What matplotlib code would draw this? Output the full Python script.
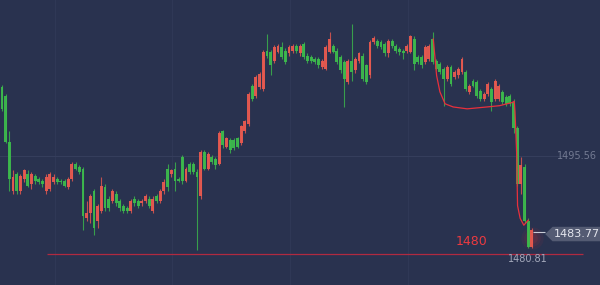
import matplotlib
matplotlib.use("Agg")
import matplotlib.pyplot as plt
from matplotlib.patches import Polygon

# ---- data (price units) ----
opens = [1506.4, 1505.1, 1497.8, 1489.9, 1492.7, 1489.9, 1491.9, 1492.7, 1491.1, 1492.4,
         1491.9, 1491.6, 1489.9, 1490.3, 1491.4, 1491.9, 1491.6, 1491.6, 1490.6, 1491.9,
         1494.3, 1493.8, 1493.5, 1485.6, 1486.4, 1490.0, 1485.2, 1486.7, 1490.6, 1488.7,
         1488.4, 1489.5, 1488.4, 1487.5, 1487.2, 1486.8, 1488.7, 1488.4, 1488.0, 1488.3,
         1488.7, 1486.8, 1489.2, 1488.3, 1489.9, 1493.5, 1492.7, 1493.5, 1491.9, 1495.4,
         1491.6, 1494.3, 1494.3, 1493.0, 1489.2, 1496.2, 1493.5, 1495.4, 1495.1, 1494.3,
         1499.4, 1497.0, 1498.0, 1498.0, 1498.3, 1497.5, 1499.4, 1500.6, 1506.7, 1505.1,
         1506.5, 1506.2, 1512.2, 1512.1, 1510.6, 1512.1, 1512.9, 1512.2, 1511.8, 1512.2,
         1513.0, 1511.8, 1513.3, 1511.4, 1511.3, 1511.0, 1511.0, 1509.7, 1509.4, 1512.1,
         1513.0, 1512.2, 1511.3, 1510.5, 1507.3, 1510.6, 1509.1, 1510.6, 1511.4, 1509.9,
         1508.3, 1513.7, 1513.8, 1513.7, 1513.3, 1511.8, 1513.8, 1513.0, 1512.5, 1512.2,
         1512.2, 1512.1, 1514.1, 1511.3, 1511.3, 1510.5, 1511.0, 1514.1, 1510.6, 1510.2,
         1509.4, 1507.8, 1509.7, 1508.1, 1508.3, 1508.9, 1508.9, 1505.7, 1507.5, 1507.3,
         1505.9, 1504.6, 1505.4, 1506.2, 1504.6, 1504.6, 1505.7, 1504.9, 1505.1, 1504.1,
         1499.9, 1491.1, 1493.8, 1485.2, 1481.0]
highs = [1506.8, 1505.4, 1499.5, 1493.2, 1493.0, 1492.7, 1493.5, 1493.3, 1493.0, 1492.7,
         1492.2, 1491.9, 1492.6, 1493.0, 1492.6, 1492.2, 1491.9, 1491.9, 1492.2, 1494.6,
         1494.6, 1494.1, 1493.8, 1488.3, 1489.5, 1490.3, 1487.9, 1492.2, 1491.0, 1489.1,
         1490.2, 1489.9, 1488.7, 1487.8, 1487.5, 1488.7, 1489.1, 1488.7, 1488.7, 1489.4,
         1489.1, 1489.1, 1489.5, 1490.3, 1491.8, 1494.3, 1493.5, 1494.6, 1492.2, 1495.6,
         1493.8, 1494.6, 1494.6, 1493.5, 1496.5, 1496.5, 1496.2, 1495.7, 1495.4, 1499.4,
         1499.7, 1498.6, 1498.3, 1498.3, 1498.6, 1500.5, 1501.3, 1505.7, 1507.0, 1508.4,
         1508.9, 1512.4, 1514.9, 1512.4, 1513.2, 1513.3, 1513.7, 1512.6, 1513.2, 1513.3,
         1513.3, 1513.3, 1513.7, 1511.8, 1511.6, 1511.3, 1511.3, 1511.0, 1513.2, 1515.2,
         1513.3, 1512.6, 1511.6, 1510.8, 1511.0, 1516.5, 1511.3, 1512.1, 1511.8, 1510.2,
         1514.0, 1514.6, 1514.1, 1514.0, 1513.7, 1514.1, 1514.1, 1513.3, 1512.9, 1512.5,
         1513.3, 1514.8, 1514.5, 1511.6, 1511.6, 1513.2, 1513.3, 1515.2, 1511.0, 1510.5,
         1509.7, 1510.0, 1510.0, 1509.2, 1509.7, 1511.3, 1509.2, 1507.0, 1507.8, 1507.6,
         1506.2, 1505.7, 1507.3, 1506.5, 1507.8, 1507.0, 1506.0, 1505.2, 1505.4, 1504.5,
         1500.2, 1495.4, 1494.3, 1485.6, 1484.0]
lows = [1502.7, 1497.5, 1490.0, 1489.5, 1489.4, 1489.5, 1491.4, 1490.5, 1490.3, 1491.1,
        1491.1, 1490.6, 1489.5, 1490.0, 1491.1, 1491.1, 1491.0, 1490.5, 1490.3, 1491.6,
        1493.2, 1492.7, 1483.7, 1485.1, 1484.8, 1482.9, 1484.0, 1486.4, 1486.8, 1486.8,
        1488.1, 1487.6, 1486.8, 1486.5, 1486.4, 1486.5, 1487.6, 1487.3, 1487.6, 1488.0,
        1487.2, 1486.5, 1488.0, 1488.0, 1489.5, 1490.0, 1492.2, 1490.0, 1491.3, 1491.1,
        1491.3, 1492.7, 1492.7, 1480.5, 1488.7, 1493.2, 1493.2, 1494.3, 1493.5, 1494.0,
        1496.7, 1496.7, 1496.0, 1496.4, 1496.7, 1497.2, 1499.1, 1500.3, 1504.3, 1504.8,
        1506.2, 1505.9, 1511.1, 1508.3, 1510.3, 1511.8, 1511.0, 1510.2, 1511.4, 1511.9,
        1511.9, 1511.4, 1511.0, 1510.3, 1510.3, 1510.2, 1509.5, 1509.4, 1509.1, 1511.8,
        1511.8, 1510.2, 1508.7, 1503.3, 1507.0, 1507.5, 1508.7, 1510.3, 1507.5, 1507.0,
        1507.9, 1513.3, 1512.7, 1512.5, 1511.4, 1511.3, 1512.7, 1511.9, 1511.6, 1511.0,
        1511.9, 1511.8, 1509.1, 1510.2, 1509.5, 1510.2, 1510.6, 1510.2, 1509.1, 1508.6,
        1503.5, 1507.5, 1506.7, 1507.8, 1507.9, 1508.6, 1505.9, 1505.4, 1506.4, 1504.8,
        1504.3, 1504.3, 1505.1, 1502.6, 1504.3, 1504.3, 1503.8, 1503.5, 1503.5, 1499.1,
        1490.8, 1489.5, 1484.8, 1480.81, 1480.9]
closes = [1503.0, 1497.8, 1491.9, 1492.2, 1489.9, 1492.4, 1493.2, 1490.8, 1492.7, 1491.6,
          1491.4, 1491.1, 1492.2, 1492.7, 1492.2, 1491.4, 1491.3, 1490.8, 1491.9, 1494.3,
          1493.5, 1493.0, 1485.9, 1486.4, 1489.2, 1484.0, 1487.6, 1490.8, 1487.2, 1487.2,
          1489.9, 1488.0, 1487.2, 1486.8, 1486.7, 1488.4, 1488.0, 1487.6, 1488.4, 1489.1,
          1487.5, 1488.7, 1488.3, 1490.0, 1491.4, 1490.6, 1493.2, 1491.6, 1491.6, 1491.6,
          1493.5, 1493.0, 1493.0, 1492.2, 1496.2, 1493.5, 1495.9, 1494.6, 1494.0, 1499.1,
          1497.2, 1498.3, 1496.4, 1496.7, 1497.0, 1500.2, 1501.0, 1505.4, 1504.6, 1508.1,
          1508.6, 1512.1, 1511.4, 1509.9, 1512.9, 1513.0, 1511.3, 1510.5, 1512.9, 1513.0,
          1512.2, 1513.0, 1511.3, 1510.6, 1510.6, 1510.5, 1509.9, 1510.6, 1512.9, 1514.1,
          1512.1, 1510.5, 1509.1, 1507.8, 1510.6, 1508.9, 1511.0, 1511.8, 1507.8, 1507.3,
          1513.7, 1514.3, 1513.0, 1512.9, 1511.8, 1513.8, 1513.0, 1512.2, 1512.1, 1511.8,
          1513.0, 1514.5, 1510.2, 1510.5, 1509.9, 1512.9, 1513.0, 1510.5, 1509.4, 1508.9,
          1507.8, 1509.7, 1507.0, 1508.9, 1509.4, 1511.0, 1506.2, 1506.7, 1506.7, 1505.1,
          1504.6, 1505.4, 1507.0, 1504.1, 1507.5, 1506.7, 1504.1, 1503.8, 1503.8, 1499.9,
          1491.1, 1494.0, 1485.1, 1481.0, 1483.77]

# red indicator curve (candle index, price)
curve_x = [117.2, 118.1, 119.0, 120.4, 122.6, 126.4, 131.8, 135.2, 138.6, 139.2,
           139.4, 139.7, 139.9, 140.0, 140.1, 140.8, 141.8, 143.0]
curve_y = [1514.1, 1508.3, 1505.7, 1503.8, 1503.3, 1503.0, 1503.3, 1503.5, 1504.0, 1504.2,
           1502.5, 1498.3, 1495.1, 1490.8, 1487.6, 1485.6, 1484.5, 1485.3]

ref_level = 1495.56
support_level = 1480
low_value = 1480.81
last_value = closes[-1]

BG = '#29324f'
UP = '#e85a4f'     # red = rising
DOWN = '#3dba4c'   # green = falling

fig = plt.figure(figsize=(6.0, 2.85), dpi=100)
fig.patch.set_facecolor(BG)
ax = fig.add_axes([0, 0, 1, 1])
ax.set_facecolor(BG)
ax.set_xlim(-0.54, 162.5)
ax.set_ylim(1475.0, 1520.3)
ax.axis('off')

# faint grid
for gx in [14.4, 46.2, 78.3, 110.3]:
    ax.axvline(gx, color='#2f3856', lw=0.8, zorder=0)
ax.axhline(ref_level, xmin=0, xmax=0.935, color='#353e5c', lw=0.8, zorder=0)

# candles
n = len(opens)
for i in range(n):
    o, h, l, c = opens[i], highs[i], lows[i], closes[i]
    col = UP if c >= o else DOWN
    ax.vlines(i, l, h, color=col, lw=0.8, alpha=0.8, zorder=2)
    lo, hi = min(o, c), max(o, c)
    if hi - lo < 0.25:
        hi = lo + 0.25
    ax.bar(i, hi - lo, bottom=lo, width=0.78, color=col, lw=0, alpha=0.95, zorder=3)

# indicator curve
ax.plot(curve_x, curve_y, color='#e8303c', lw=0.9, zorder=4)

# support line + label
ax.hlines(support_level, 12.2, 157.9, color='#b02a40', lw=0.9, zorder=1)
ax.text(127.7, 1481.9, '1480', color='#ec3a40', fontsize=9, ha='center', va='center')

# reference level label
ax.text(0.995, ref_level, '1495.56', color='#737a92', fontsize=7, ha='right', va='center',
        transform=ax.get_yaxis_transform())

# low label
ax.text(143.0, 1479.1, f'{low_value:.2f}', color='#a4a9bb', fontsize=7, ha='center',
        va='center')

# glow around last candle
for s, a in [(260, 0.06), (140, 0.08), (60, 0.10)]:
    ax.scatter([n - 1], [1482.4], s=s, color='#ff3030', alpha=a, lw=0, zorder=1)

# last price tag
tag_y = 1483.1
ax.hlines(tag_y + 0.3, n - 0.6, 147.6, color='#c9ccd6', lw=0.8, zorder=4)
tag = Polygon([[147.6, tag_y], [149.6, tag_y + 1.15], [162.6, tag_y + 1.15],
               [162.6, tag_y - 1.15], [149.6, tag_y - 1.15]],
              closed=True, facecolor='#545b73', edgecolor='none', zorder=5)
ax.add_patch(tag)
ax.text(156.3, tag_y, f'{last_value:.2f}', color='#e4e6ee', fontsize=8, ha='center',
        va='center', zorder=6)

fig.savefig('out.png', dpi=100, facecolor=BG)
